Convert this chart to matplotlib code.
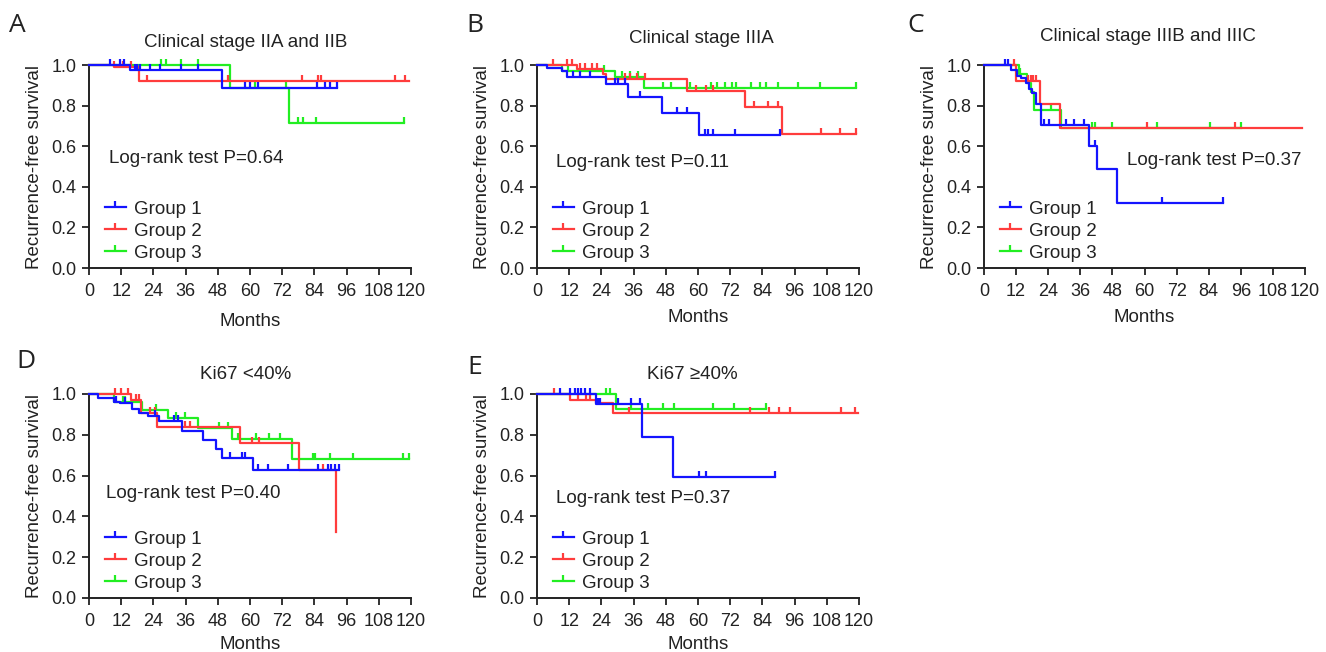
import numpy as np
import matplotlib
matplotlib.use("Agg")
import matplotlib.pyplot as plt
from matplotlib.path import Path
from matplotlib.lines import Line2D

plt.rcParams['font.family'] = ['Liberation Sans', 'DejaVu Sans']

# ---------------- data ----------------
group_labels = ["Group 1", "Group 2", "Group 3"]
x_ticks = [0, 12, 24, 36, 48, 60, 72, 84, 96, 108, 120]
y_ticks = [0.0, 0.2, 0.4, 0.6, 0.8, 1.0]
panel_letters = ["A", "B", "C", "D", "E"]
panel_titles = ["Clinical stage IIA and IIB", "Clinical stage IIIA", "Clinical stage IIIB and IIIC",
                "Ki67 <40%", "Ki67 \u226540%"]
p_texts = ["Log-rank test P=0.64", "Log-rank test P=0.11", "Log-rank test P=0.37",
           "Log-rank test P=0.40", "Log-rank test P=0.37"]

# Panel A
A1_t = [15.4, 49.7]; A1_s = [0.977, 0.885]; A1_end = 92.4
A1_c = [8, 11.7, 12.9, 17, 18, 19, 22.9, 26.6, 34.4, 40.6, 58, 59.9, 63, 85, 87.8, 89.7, 92.4]
A2_t = [9.2, 18.5]; A2_s = [0.99, 0.922]; A2_end = 119.3
A2_c = [9.5, 12.5, 15.5, 21.6, 51.8, 79.2, 85.3, 86.6, 113.9, 117.7]
A3_t = [52.4, 74.5]; A3_s = [0.885, 0.713]; A3_end = 117.3
A3_c = [27, 28.7, 34.4, 40.6, 61.7, 73.6, 77.9, 79.8, 84.5, 117.3]

# Panel B
B1_t = [3.7, 9.5, 11.1, 25.9, 33.9, 46.5, 60.4]
B1_s = [0.985, 0.97, 0.943, 0.906, 0.844, 0.762, 0.655]; B1_end = 90.7
B1_c = [13.3, 16, 19.7, 29.1, 30.3, 32.8, 38.5, 52, 56, 62.5, 63.7, 65.6, 73.8, 90.7]
B2_t = [14.8, 24.5, 25.7, 55.8, 77.4, 91.4]
B2_s = [0.98, 0.955, 0.931, 0.873, 0.795, 0.659]; B2_end = 119
B2_c = [5.9, 11.1, 12.9, 16, 17.9, 20.4, 22.3, 32.7, 34.6, 37.1, 40.2, 59.4, 63.1, 65.6,
        80.8, 86.1, 89.8, 106, 112.8, 119]
B3_t = [9.5, 29, 39.8]; B3_s = [0.97, 0.943, 0.888]; B3_end = 119
B3_c = [11.7, 25.1, 31.8, 34.6, 37.6, 47, 50.1, 56.9, 65, 66.9, 70, 72.5, 74.3, 79.9, 83,
        85.5, 89.8, 97.3, 105.4, 119]

# Panel C
C1_t = [10, 12.2, 13.7, 15.6, 16.8, 18, 19.6, 21.2, 39.1, 42.1, 49.6]
C1_s = [0.975, 0.947, 0.934, 0.91, 0.88, 0.86, 0.806, 0.704, 0.603, 0.486, 0.322]; C1_end = 89.4
C1_c = [7.7, 9.0, 22.4, 24.3, 30.5, 33.6, 37.4, 41.5, 66.4, 89.4]
C2_t = [11.9, 20.8, 28.4]; C2_s = [0.923, 0.806, 0.69]; C2_end = 119
C2_c = [11.3, 16.5, 17.5, 18.5, 19.5, 61, 93.7]
C3_t = [13, 16, 17.5, 18.7, 28.6]; C3_s = [0.955, 0.91, 0.865, 0.78, 0.69]; C3_end = 96
C3_c = [13.5, 25, 40.5, 41.5, 48, 64.5, 84.5, 96]

# Panel D
D1_t = [3.5, 9.5, 11.5, 15.9, 18.6, 22.1, 26.1, 34.5, 42.5, 47.5, 49.4, 61.2]
D1_s = [0.98, 0.962, 0.954, 0.926, 0.905, 0.89, 0.868, 0.82, 0.776, 0.731, 0.685, 0.627]; D1_end = 93.2
D1_c = [10, 13.5, 24.5, 31.5, 33, 52.5, 56.9, 58.1, 63.1, 66.8, 74.2, 85.3, 89.1, 90.3, 91.6, 93.2]
D2_t = [15.8, 19.4, 25.4, 56.4, 78.3, 92]; D2_s = [0.97, 0.905, 0.84, 0.758, 0.627, 0.325]; D2_end = 92
D2_c = [9.6, 12.1, 14.5, 17.7, 18.6, 22.6, 24.5, 35.7, 37.5, 60.9, 63.4, 87.2]
D3_t = [9.3, 19.8, 29.5, 40.6, 53.3, 75.6]; D3_s = [0.962, 0.922, 0.88, 0.835, 0.778, 0.68]; D3_end = 119.3
D3_c = [12.5, 13.6, 24.8, 32.6, 35.7, 48.3, 51.8, 55.5, 62.4, 67.1, 71.1, 83.5, 84.1, 89.7, 98.2, 117, 119.3]

# Panel E
E1_t = [22, 39.3, 50.7]; E1_s = [0.953, 0.787, 0.595]; E1_end = 88.6
E1_c = [8.5, 12.2, 14.1, 15.3, 16.5, 17.8, 19.6, 22.7, 23.4, 30.2, 35.2, 38.5, 60.4, 63.1, 88.6]
E2_t = [12.2, 22, 28.3]; E2_s = [0.972, 0.955, 0.905]; E2_end = 119.8
E2_c = [6.2, 15.3, 18.4, 19.6, 34.3, 79.3, 86.5, 90.2, 94.4, 113.4, 118.4]
E3_t = [29.3]; E3_s = [0.926]; E3_end = 85.2
E3_c = [25.8, 27.3, 35.2, 41.4, 47, 51, 65.6, 73.4, 85.2]

panels = [
    [(A1_t, A1_s, A1_end, A1_c), (A2_t, A2_s, A2_end, A2_c), (A3_t, A3_s, A3_end, A3_c)],
    [(B1_t, B1_s, B1_end, B1_c), (B2_t, B2_s, B2_end, B2_c), (B3_t, B3_s, B3_end, B3_c)],
    [(C1_t, C1_s, C1_end, C1_c), (C2_t, C2_s, C2_end, C2_c), (C3_t, C3_s, C3_end, C3_c)],
    [(D1_t, D1_s, D1_end, D1_c), (D2_t, D2_s, D2_end, D2_c), (D3_t, D3_s, D3_end, D3_c)],
    [(E1_t, E1_s, E1_end, E1_c), (E2_t, E2_s, E2_end, E2_c), (E3_t, E3_s, E3_end, E3_c)],
]

# ---------------- style / layout ----------------
W, H = 1326, 652
colors = ['#1414ff', '#ff3c3c', '#22ee22']
zorders = [4, 3, 2]
text_color = '#222222'
FS = 13.5
TFS = 13

# axes boxes in pixels: (left, top, right, bottom)
boxes = [(89, 65, 411, 268), (537, 65, 859, 268), (984, 65, 1305, 268),
         (89, 394, 411, 598), (537, 394, 859, 598)]
letter_pos = [(9, 25), (466, 25), (907, 26), (16, 362), (467, 368)]
title_pos = [(0.487, 1.113), (0.512, 1.133), (0.511, 1.138), (0.487, 1.098), (0.481, 1.098)]
p_pos = [(7.3, 0.54), (7.2, 0.52), (53.6, 0.53), (6.2, 0.513), (7.2, 0.49)]
xlabelpads = [9, 6, 6, 4, 4]

tick_marker = Path([(0, 0), (0, 1)], [Path.MOVETO, Path.LINETO])
LW = 1.6
MS = 8

fig = plt.figure(figsize=(W / 100, H / 100), dpi=100)

for i, (curves, box) in enumerate(zip(panels, boxes)):
    l, t, r, b = box
    ax = fig.add_axes([l / W, 1 - b / H, (r - l) / W, (b - t) / H])
    for g, (et, es, end, cens) in enumerate(curves):
        xs = [0] + list(et) + [end]
        ys = [1.0] + list(es) + [es[-1]]
        ax.step(xs, ys, where='post', color=colors[g], lw=LW, zorder=zorders[g], clip_on=False)
        surv_all = np.array([1.0] + list(es))
        idx = np.searchsorted(np.array(et), np.array(cens), side='right')
        cy = surv_all[idx]
        ax.plot(cens, cy, ls='none', marker=tick_marker, ms=MS, mew=LW, mec=colors[g],
                zorder=zorders[g], clip_on=False)
    ax.set_xlim(0, 120)
    ax.set_ylim(0, 1.0)
    ax.set_xticks(x_ticks)
    ax.set_yticks(y_ticks)
    ax.set_yticklabels([f"{v:.1f}" for v in y_ticks])
    for s in ['top', 'right']:
        ax.spines[s].set_visible(False)
    for s in ['left', 'bottom']:
        ax.spines[s].set_linewidth(1.4)
        ax.spines[s].set_color('#222222')
    ax.tick_params(axis='both', direction='out', length=5, width=1.3, colors='#222222',
                   labelsize=TFS, labelcolor=text_color)
    ax.tick_params(axis='x', pad=6)
    ax.tick_params(axis='y', pad=4)
    ax.set_xlabel("Months", fontsize=FS, color=text_color, labelpad=xlabelpads[i])
    ax.set_ylabel("Recurrence-free survival", fontsize=FS, color=text_color, labelpad=6)
    ax.text(title_pos[i][0], title_pos[i][1], panel_titles[i], transform=ax.transAxes,
            ha='center', va='center', fontsize=FS, color=text_color,
            family=['Liberation Sans', 'DejaVu Sans'])
    ax.text(p_pos[i][0], p_pos[i][1], p_texts[i], ha='left', va='center', fontsize=FS,
            color=text_color)
    handles = [Line2D([], [], color=colors[g], lw=LW, marker=tick_marker, ms=MS, mew=LW,
                      mec=colors[g]) for g in range(3)]
    leg = ax.legend(handles, group_labels, loc='lower left', bbox_to_anchor=(0.05, 0.03),
                    frameon=False, fontsize=FS, borderpad=0, borderaxespad=0,
                    handlelength=1.1, handletextpad=0.45, labelspacing=0.27, numpoints=1)
    for txt in leg.get_texts():
        txt.set_color(text_color)
    if i == 2:
        ax.yaxis.get_major_ticks()[1].tick1line.set_color(colors[1])
    fig.text(letter_pos[i][0] / W, 1 - letter_pos[i][1] / H, panel_letters[i],
             ha='left', va='center', fontsize=19, color=text_color, family='Open Sans')

fig.savefig("out.png", dpi=100, facecolor='white')
